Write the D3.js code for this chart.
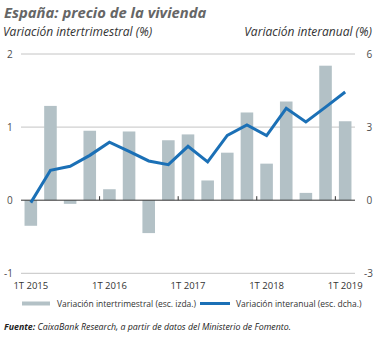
<!DOCTYPE html>
<html>
<head>
<meta charset="utf-8">
<script src="https://cdn.jsdelivr.net/npm/d3@7"></script>
<style>
  body { margin: 0; background: #fff; }
  svg { display: block; font-family: "Open Sans", sans-serif; }
</style>
</head>
<body>
<svg id="chart" width="382" height="338"></svg>
<script>
// quarters 1T 2015 .. 1T 2019
const quarters = [
  "2015Q1", "2015Q2", "2015Q3", "2015Q4",
  "2016Q1", "2016Q2", "2016Q3", "2016Q4",
  "2017Q1", "2017Q2", "2017Q3", "2017Q4",
  "2018Q1", "2018Q2", "2018Q3", "2018Q4",
  "2019Q1"
];
// quarter-on-quarter change (%), left scale
const quarterlyChange = [
  -0.35, 1.29, -0.05, 0.95,
  0.15, 0.94, -0.45, 0.82,
  0.90, 0.27, 0.65, 1.20,
  0.50, 1.35, 0.10, 1.84,
  1.08
];
// year-on-year change (%), right scale
const annualChange = [
  -0.1, 1.23, 1.39, 1.84,
  2.38, 2.0, 1.61, 1.46,
  2.21, 1.57, 2.66, 3.09,
  2.65, 3.77, 3.21, 3.82,
  4.44
];
const leftTicks = [-1, 0, 1, 2];
const rightTicks = [-3, 0, 3, 6];
const xLabels = {"2015Q1": "1T 2015", "2016Q1": "1T 2016", "2017Q1": "1T 2017",
  "2018Q1": "1T 2018", "2019Q1": "1T 2019"};

const BAR_COLOR = "#b3c1c6";
const LINE_COLOR = "#1b70b6";
const TEXT_COLOR = "#4d4d4d";

const svg = d3.select("#chart");

const plotLeft = 21, plotRight = 355;
const yTop = 54, yBottom = 273.3;

const x = d3.scaleBand().domain(quarters).range([plotLeft, plotRight]).padding(0);
const yLeft = d3.scaleLinear().domain([-1, 2]).range([yBottom, yTop]);
const yRight = d3.scaleLinear().domain([-3, 6]).range([yBottom, yTop]);

// titles
svg.append("text")
  .attr("x", 4).attr("y", 18)
  .attr("font-size", 14.8).attr("font-weight", "bold").attr("font-style", "italic")
  .attr("fill", "#666")
  .text("España: precio de la vivienda");

svg.append("text")
  .attr("x", 3).attr("y", 36)
  .attr("font-size", 12).attr("font-style", "italic").attr("fill", "#333")
  .text("Variación intertrimestral (%)");

svg.append("text")
  .attr("x", 372).attr("y", 36).attr("text-anchor", "end")
  .attr("font-size", 12).attr("font-style", "italic").attr("fill", "#333")
  .text("Variación interanual (%)");

// gridlines
svg.append("g")
  .selectAll("line")
  .data(leftTicks.filter(d => d !== 0))
  .enter()
  .append("line")
  .attr("x1", plotLeft).attr("x2", plotRight)
  .attr("y1", d => yLeft(d)).attr("y2", d => yLeft(d))
  .attr("stroke", "#c4c4c4").attr("stroke-width", 1);

// left axis labels
svg.append("g")
  .selectAll("text")
  .data(leftTicks)
  .enter()
  .append("text")
  .attr("x", d => d < 0 ? 4 : 7)
  .attr("y", d => yLeft(d) + 3.5)
  .attr("font-size", 10).attr("fill", TEXT_COLOR)
  .text(d => d);

// right axis labels
svg.append("g")
  .selectAll("text")
  .data(rightTicks)
  .enter()
  .append("text")
  .attr("x", d => d < 0 ? 364 : 366.5)
  .attr("y", d => yRight(d) + 3.5)
  .attr("font-size", 10).attr("fill", TEXT_COLOR)
  .text(d => d);

// bars
const barWidth = x.bandwidth() * 0.64;
svg.append("g")
  .selectAll("rect")
  .data(quarters)
  .enter()
  .append("rect")
  .attr("x", d => x(d) + (x.bandwidth() - barWidth) / 2)
  .attr("y", (d, i) => yLeft(Math.max(0, quarterlyChange[i])))
  .attr("width", barWidth)
  .attr("height", (d, i) => Math.abs(yLeft(quarterlyChange[i]) - yLeft(0)))
  .attr("fill", BAR_COLOR);

// zero line + year ticks
svg.append("line")
  .attr("x1", plotLeft).attr("x2", plotRight)
  .attr("y1", yLeft(0)).attr("y2", yLeft(0))
  .attr("stroke", "#333").attr("stroke-width", 1);

svg.append("g")
  .selectAll("line")
  .data(quarters.filter(d => d.endsWith("Q1") && d !== "2015Q1"))
  .enter()
  .append("line")
  .attr("x1", d => x(d)).attr("x2", d => x(d))
  .attr("y1", yLeft(0)).attr("y2", yLeft(0) - 4)
  .attr("stroke", "#333").attr("stroke-width", 1);

// line series
const line = d3.line()
  .x((d, i) => x(quarters[i]) + x.bandwidth() / 2)
  .y(d => yRight(d));

svg.append("path")
  .datum(annualChange)
  .attr("d", line)
  .attr("fill", "none")
  .attr("stroke", LINE_COLOR)
  .attr("stroke-width", 3)
  .attr("stroke-linejoin", "miter");

// x labels
svg.append("g")
  .selectAll("text")
  .data(Object.keys(xLabels))
  .enter()
  .append("text")
  .attr("x", d => x(d) + x.bandwidth() / 2)
  .attr("y", 289)
  .attr("text-anchor", "middle")
  .attr("font-size", 9.5).attr("fill", "#333")
  .text(d => xLabels[d]);

// legend
const legend = svg.append("g").attr("font-size", 8.5).attr("fill", "#333");
legend.append("rect")
  .attr("x", 22).attr("y", 301.5).attr("width", 28).attr("height", 4)
  .attr("fill", BAR_COLOR);
legend.append("text")
  .attr("x", 57).attr("y", 306.5)
  .text("Variación intertrimestral (esc. izda.)");
legend.append("line")
  .attr("x1", 200).attr("x2", 230).attr("y1", 303.5).attr("y2", 303.5)
  .attr("stroke", LINE_COLOR).attr("stroke-width", 3);
legend.append("text")
  .attr("x", 236).attr("y", 306.5)
  .text("Variación interanual (esc. dcha.)");

// source
const source = svg.append("text")
  .attr("x", 4).attr("y", 330)
  .attr("font-size", 8.8).attr("font-style", "italic").attr("fill", "#222");
source.append("tspan").attr("font-weight", "bold").text("Fuente: ");
source.append("tspan").text("CaixaBank Research, a partir de datos del Ministerio de Fomento.");
</script>
</body>
</html>
